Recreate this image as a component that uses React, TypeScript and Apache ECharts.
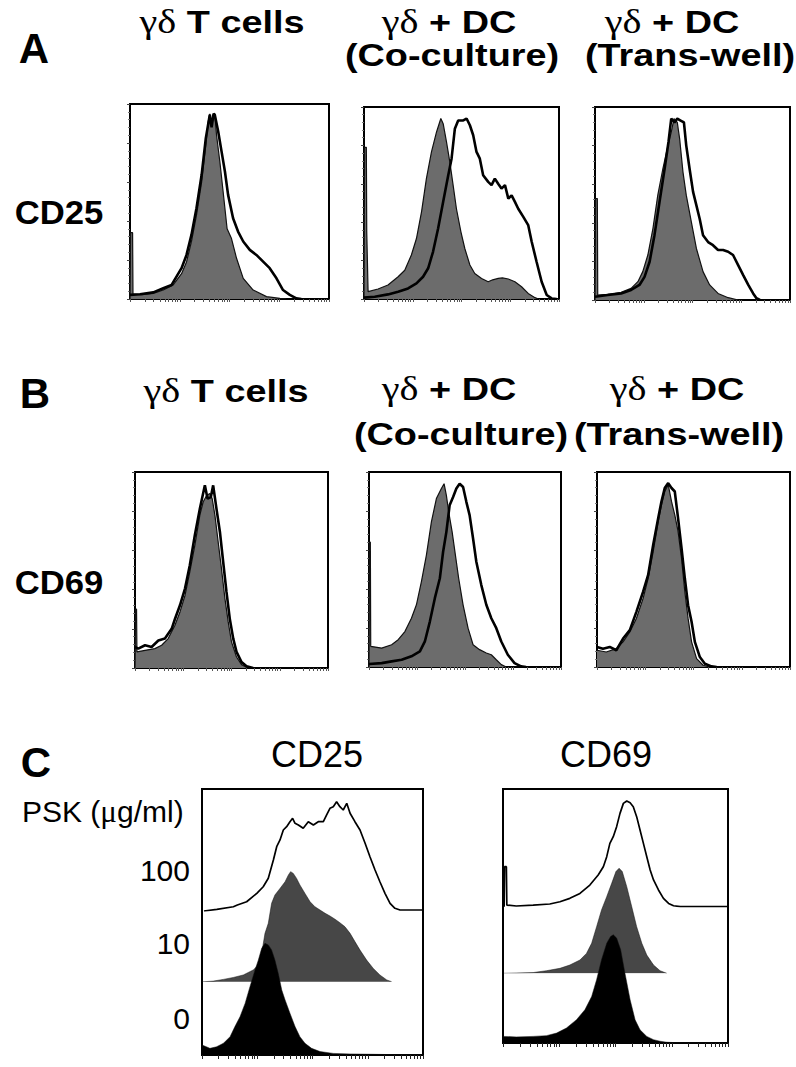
import React, { useEffect, useRef } from "react";
import * as echarts from "echarts";

// ---------- DATA (x: % of log-fluorescence axis, y: % of max count) ----------
// Panel A (CD25): grey = gamma-delta T cells control, open = stained
const a1Grey = [[0,0],[0.3,34],[1.3,34],[1.5,2.5],[6,2.2],[11.7,2.9],[16.7,4.6],[21.7,7.2],[25.9,13],[28.4,19],[30.9,29.5],[33.4,43],[36,60],[38.1,79],[39.3,91],[40.1,95],[41,90],[41.8,94],[42.6,95],[43.5,84],[45.2,70],[46.8,55],[48.8,36],[51,31],[53.5,21],[56.9,10.6],[61.9,4.6],[68.6,1.2],[75.3,0.3],[78.6,0]];
const a1Open = [[0,2.1],[5,2.4],[11.7,3.4],[16.7,5.5],[20.9,7.2],[25.9,15.8],[28.4,22.6],[30.9,33],[33.4,46.6],[36,63.7],[38.1,82.5],[40.1,94.5],[41,88],[42,95],[42.6,94.5],[44.3,86],[46,75.7],[47.7,65.4],[49.3,53.4],[51.8,41.4],[54.3,34.6],[56.9,29.5],[60.2,25.2],[63.5,22.6],[66.9,19.2],[70.2,15.8],[73.6,10.6],[76.9,4.6],[80.3,2.1],[83.6,0.3],[86.1,0]];
const a2Grey = [[0,0],[0.3,79],[1.2,79],[1.4,35],[2.1,3.8],[7.2,5.2],[12.3,7.3],[17.5,11.6],[20.9,15],[24.3,22.9],[26.9,31.5],[29.5,45.4],[32,62.7],[34.6,76.6],[37.2,87],[39.4,94],[40.6,91.3],[42.3,81.8],[44,71.4],[45.7,59.3],[47.4,47],[49.7,35],[51.7,26.3],[54.3,17.7],[56.8,13.3],[60.3,10.7],[63.7,9],[66,10],[68.8,10.7],[71,11],[74,10.4],[77.4,9],[80.8,6.4],[84.2,2.9],[87.7,0.7],[89.4,0]];
const a2Open = [[0,0.7],[5.5,1.2],[12.3,2.4],[17.5,3.8],[22.6,5.5],[26.9,8.1],[30.3,11.6],[32.9,16],[35.4,24.6],[38,36.7],[40.6,50.6],[43.2,64.5],[44.9,73.1],[46.6,88.7],[48.3,93],[50.9,93],[52.6,94],[54.3,90.5],[56,85.3],[57.7,76.6],[59.4,73.1],[61.1,64.5],[63.7,61],[65.4,59.3],[67.1,62.7],[68.8,60],[70.5,57.5],[72.3,59.3],[74,52.3],[75.7,54],[77.4,50.6],[79.1,47],[81.7,42.8],[84.2,38.5],[86,29.8],[88.5,19.4],[91.1,9],[93.7,2.1],[96.2,0.3],[98.8,0]];
const a3Grey = [[0,0],[0.3,52.6],[1.2,52.6],[1.4,2.6],[6.5,2.9],[13.4,4],[18.5,6],[22,9.5],[24.5,14.7],[27.1,23.3],[29.7,37],[32.2,54.3],[34.8,68],[37.4,80],[39.1,87],[40.5,94],[42.2,92],[43.4,83.6],[45.1,66.4],[46.8,54.3],[49.4,40.5],[52,26.7],[55.4,14.7],[58.8,7.8],[63.1,3.4],[68.3,1.2],[73.4,0]];
const a3Open = [[0,1.7],[6.5,2.6],[13.4,3.4],[18.5,5.2],[22.8,7.8],[25.4,12],[28,19.8],[30.5,33.6],[33.1,50.9],[35.7,68],[37.7,82],[39.1,94],[40.8,92],[42.2,94],[43.9,93],[45.6,92],[46.8,80],[48.5,68],[50.3,56],[52,49],[53.7,42],[55.4,33.6],[58,30],[60.5,28.4],[63.1,25.9],[65.7,25.9],[68.3,25],[70.8,23.3],[73.4,18.1],[76,12.9],[78.6,7.8],[81.1,3.4],[82.8,0.9],[84.6,0]];

// Panel B (CD69)
const b1Grey = [[0,0],[0.3,30],[0.8,30],[1,8.2],[5.2,9],[10.3,9.9],[13.8,11.6],[17.2,15],[20.7,21.8],[23.3,28.6],[25.9,37],[28.4,49],[31,62.6],[33.6,78],[35.3,84.7],[37.1,88],[38.8,89],[40,86.4],[41.4,78],[43.1,64.3],[44.8,50.7],[46.6,35.4],[48.3,23.5],[50,13.3],[52.6,5.6],[55.2,1.7],[58.6,0]];
const b1Open = [[0,10.7],[1.7,9.9],[5.2,11.6],[8.6,10.7],[12.1,14],[15.5,15],[19,20],[20.7,25],[23.3,32],[25.9,40.5],[28.4,52.4],[31,67.7],[33.6,81.3],[36.2,93.2],[37.6,86.4],[39.3,87.2],[40.5,93.2],[42.2,81.3],[44,69.4],[45.7,54],[47.4,38.8],[49.1,25.2],[50.9,15],[52.6,8.2],[55.2,3],[57.8,0.9],[61.2,0]];
const b2Grey = [[0,0],[0.2,64],[0.7,64],[0.9,10.6],[6.6,9.7],[11.8,11.4],[15.2,14],[18.7,18.2],[22.1,25],[24.7,31.9],[27.3,43.8],[29.9,57.4],[32.5,74.4],[35.1,86.4],[37.7,91.5],[39.1,94],[40.3,88],[41.5,79.6],[43.3,69.3],[45,57.4],[46.7,45.5],[49,31.9],[51.6,19.9],[54.2,11.4],[57.6,8.9],[61.1,7.2],[63.7,6.3],[66.3,3.7],[68.9,1.2],[71.5,0]];
const b2Open = [[0,1.5],[6.6,2],[11.8,2.9],[17,3.7],[22.1,5.5],[26.5,8],[29.1,13.1],[31.7,23.3],[34.3,35.3],[36.9,45.5],[38.6,59.1],[40.3,69.3],[42,83],[43.8,87.2],[45.5,91.5],[47.2,94],[49,92.3],[50.7,84.7],[52.4,77.9],[54.2,65.9],[55.9,54],[58.5,42],[61.1,31.9],[63.7,25],[66.3,19.9],[68.9,13.1],[72.3,6.3],[75.8,2],[79.2,0.3],[81.8,0]];
const b3Grey = [[0,8.6],[4.8,7.7],[10,9.4],[13.5,12.9],[17,18],[20.4,24.9],[23.9,35.2],[26.5,45.5],[29.1,59.2],[31.7,74.6],[33.4,83.2],[35.1,90],[36.9,93.5],[38.6,84.9],[40.3,78],[42,69.5],[43.8,55.7],[45.5,38.6],[47.2,24.9],[49,12.9],[51.6,4.3],[55,0.9],[58.5,0]];
const b3Open = [[0,10.3],[3.1,9.4],[6.6,10.3],[10,8.6],[13.5,14.6],[17,18.9],[20.4,28.3],[23.9,38.6],[26.5,47.2],[29.1,62.6],[31.7,76.3],[33.4,84.9],[35.1,91.8],[36.9,94.3],[38.6,91.8],[40.3,90],[42,76.3],[43.8,60.9],[45.5,45.5],[47.2,31.7],[49,23.2],[50.7,12.9],[53.3,5.1],[55.9,1.7],[59.3,0.3],[62,0]];

// Panel C: PSK doses 100 / 10 / 0 µg/ml
const pskDoses = ["100", "10", "0"];
const c1Psk100 = [[0.9,0],[6.7,1.4],[14.2,3.5],[16,4.9],[20.2,7.6],[24.8,14.5],[27.7,19.9],[30,26.8],[32.3,41.8],[33.8,52.7],[35.3,58.2],[36.8,66.4],[38.3,69.1],[39.8,73.2],[41,76],[42.1,71.9],[43.6,70.5],[45.8,67.8],[48.1,73.2],[50.4,70.5],[52.6,73.2],[54.9,73.2],[56.4,78.7],[57.9,84.2],[59.4,85.5],[60.9,89.6],[62.4,85.5],[63.9,82.8],[65.5,88.3],[67,80.1],[69.2,73.2],[71.5,66.4],[73.8,55.5],[76,44.5],[78.3,33.6],[80.5,24],[82.8,14.5],[85.1,6.3],[87.3,2.2],[89.6,0.8],[100,0.8]];
const c1Psk10 = [[0,0],[0.9,0],[5.1,0.3],[9.7,1.2],[14.2,2.2],[18.7,3.5],[23.2,6.1],[25.5,8.7],[27,14.7],[28.5,25.1],[30,30.3],[31.5,40.7],[33,45],[35.3,48.4],[37.6,51.9],[39.1,55.4],[40.1,57.1],[41.3,56.2],[42.8,53.6],[44.3,50.2],[46.6,45.8],[48.9,41.5],[51.1,38.9],[53.4,37.2],[55.7,35.5],[57.9,34.1],[60.2,32.4],[62.4,30.6],[64.7,28.5],[67,25.1],[69.2,20.8],[71.5,16.4],[74.5,11.2],[77.5,6.9],[80.5,3.5],[83.6,0.9],[85.8,0]];
const c1Psk0 = [[0,3.8],[3.6,2.5],[6.6,3.1],[9.7,4.4],[12.7,6.9],[14.9,10.7],[17.2,14.4],[19.5,19.4],[21.7,25.7],[24,32],[25.5,35.7],[27,40.1],[28.5,42],[30,41.4],[31.5,39.5],[33,35.7],[34.5,30.7],[36.1,24.4],[37.6,20.7],[39.8,15.7],[42.1,10.7],[44.3,6.9],[46.6,4.4],[49.6,2.5],[53.4,1.3],[59.4,0.6],[67,0.4],[74.5,0.3],[89.6,0.1],[100,0.1]];
const c2Psk100 = [[0.5,0],[0.7,34],[1.5,34],[1.7,1.4],[5.9,0.6],[13.4,1.4],[20.8,2.3],[25.3,4.2],[29.7,7.1],[34.2,11.3],[38.6,18.4],[42.3,26.9],[44.6,34],[46.1,42.5],[47.5,53.8],[49,59.5],[50.5,68],[52,79.3],[53.5,87.8],[55,89.8],[56.5,88.4],[57.9,85],[59.4,76.5],[60.9,65.2],[62.4,53.8],[63.9,42.5],[65.4,31.2],[66.9,22.7],[69.1,14.2],[71.3,7.1],[73.6,2.8],[75.8,0.8],[78.8,0],[100,0]];
const c2Psk10 = [[0,0],[0.7,0],[13.4,0.4],[19.3,1.4],[25.3,2.7],[29.7,4.5],[34.2,7.2],[37.1,10.8],[39.4,16.3],[41.6,25.3],[43.8,34.4],[46.1,41.6],[48.3,48.8],[50.2,55.2],[51.6,57],[53,55.2],[55,47],[57.2,36.2],[59.4,25.3],[61.7,16.3],[63.9,9.9],[66.9,4.5],[69.8,1.4],[72.8,0]];
const c2Psk0 = [[0,2.6],[5.9,2.4],[13.4,2.6],[19.3,2.9],[23.8,3.9],[28.2,5.9],[32.7,9.2],[36.4,13.1],[39.4,18.3],[41.6,24.9],[43.8,32.8],[46.1,39.3],[47.8,41.9],[49,42.6],[50.5,41.3],[52.3,36.7],[54.2,27.5],[56.5,17],[58.7,9.2],[60.9,5.2],[63.9,2.6],[66.9,1.3],[69.8,0.7],[72.8,0.3],[80.2,0],[100,0]];

// Labels
const columnTitles = [["γδ", " T cells", ""], ["γδ", " + DC", "(Co-culture)"], ["γδ", " + DC", "(Trans-well)"]];
const rowMarkers = ["CD25", "CD69"];
const panelLetters = ["A", "B", "C"];
const cTitles = ["CD25", "CD69"];

// log-decade tick positions (4 decades across the axis)
const LOG_TICKS: number[] = [];
for (let d = 0; d < 4; d++) for (let k = 1; k <= 9; k++) LOG_TICKS.push(+(25 * (d + Math.log10(k))).toFixed(2));
LOG_TICKS.push(100);

const GREY = "#6c6c6c";

export default function App() {
  const ref = useRef<HTMLDivElement>(null);
  useEffect(() => {
    if (!ref.current) return;
    const chart = echarts.init(ref.current, null, { renderer: "svg" });
    const grids: any[] = [];
    const xAxes: any[] = [];
    const yAxes: any[] = [];
    const series: any[] = [];

    const addFrame = (l: number, t: number, r: number, b: number, yTicks: boolean, tickLen: number, tickColor: string) => {
      const i = grids.length;
      grids.push({ left: l, top: t, width: r - l, height: b - t, show: true, borderColor: "#000", borderWidth: 2, backgroundColor: "transparent" });
      xAxes.push({ type: "value", gridIndex: i, min: 0, max: 100, axisLine: { show: false }, splitLine: { show: false }, axisLabel: { show: false },
        axisTick: { show: true, inside: false, length: tickLen, customValues: LOG_TICKS, lineStyle: { color: tickColor, width: 1 } } });
      yAxes.push({ type: "value", gridIndex: i, min: 0, max: 100, interval: 20, axisLine: { show: false }, splitLine: { show: false }, axisLabel: { show: false },
        axisTick: { show: yTicks, inside: false, length: 3, lineStyle: { color: "#444", width: 1 } },
        minorTick: { show: yTicks, splitNumber: 5, length: 2, lineStyle: { color: "#777", width: 1 } } });
      return i;
    };
    const addPlain = (l: number, t: number, r: number, b: number) => {
      const i = grids.length;
      grids.push({ left: l, top: t, width: r - l, height: b - t, show: false });
      xAxes.push({ type: "value", gridIndex: i, min: 0, max: 100, show: false });
      yAxes.push({ type: "value", gridIndex: i, min: 0, max: 100, show: false });
      return i;
    };
    const filled = (gi: number, data: number[][], color: string, z: number, lw = 1.2) =>
      series.push({ type: "line", xAxisIndex: gi, yAxisIndex: gi, data, symbol: "none", silent: true, z,
        lineStyle: { color: "#111", width: lw }, areaStyle: { color, opacity: 1 } });
    const open = (gi: number, data: number[][], z: number, lw = 2.6) =>
      series.push({ type: "line", xAxisIndex: gi, yAxisIndex: gi, data, symbol: "none", silent: true, z,
        lineStyle: { color: "#000", width: lw } });

    const aBoxes = [[130, 104, 329, 299], [364, 107, 559, 299], [595, 107, 790, 300]];
    const bBoxes = [[135, 472, 328, 668], [369, 472, 561, 667], [597, 472, 790, 667]];
    const aData = [[a1Grey, a1Open], [a2Grey, a2Open], [a3Grey, a3Open]];
    const bData = [[b1Grey, b1Open], [b2Grey, b2Open], [b3Grey, b3Open]];
    aBoxes.forEach((bx, k) => { const g = addFrame(bx[0], bx[1], bx[2], bx[3], true, 3, "#555"); filled(g, aData[k][0], GREY, 2); open(g, aData[k][1], 3); });
    bBoxes.forEach((bx, k) => { const g = addFrame(bx[0], bx[1], bx[2], bx[3], true, 3, "#555"); filled(g, bData[k][0], GREY, 2); open(g, bData[k][1], 3); });

    // Panel C: box, then one grid per offset trace (bottom = its baseline)
    const cBoxes = [[202, 789, 423, 1055], [503, 789, 728, 1043]];
    const cBase = [[911, 981.7], [906.7, 973.3]];
    const cData = [[c1Psk100, c1Psk10, c1Psk0], [c2Psk100, c2Psk10, c2Psk0]];
    cBoxes.forEach((bx, k) => {
      addFrame(bx[0], bx[1], bx[2], bx[3], false, 4, "#222");
      const gTop = addPlain(bx[0], bx[1], bx[2], cBase[k][0]);
      const gMid = addPlain(bx[0], bx[1], bx[2], cBase[k][1]);
      const gBot = addPlain(bx[0], bx[1], bx[2], bx[3]);
      open(gTop, cData[k][0], 2, 1.7);
      filled(gMid, cData[k][1], "#474747", 3, 0.5);
      filled(gBot, cData[k][2], "#000", 4, 0.5);
    });

    const SANS = "'Liberation Sans', Arial, Helvetica, sans-serif";
    const SERIF = "'Liberation Serif', 'Times New Roman', serif";
    const txt = (x: number, y: number, text: string, size: number, bold: boolean, align = "center", rich?: any, scaleX = 1) => ({
      type: "text", x, y, scaleX, z: 10, silent: true,
      style: { text, fill: "#000", fontFamily: SANS, fontSize: size, fontWeight: bold ? "bold" : "normal", align, verticalAlign: "middle", rich },
    });
    const greekRich = { g: { fontFamily: SERIF, fontWeight: "normal", fontSize: 33, fill: "#000" } };
    const SX = 1.22;
    const graphics: any[] = [];
    graphics.push(txt(34, 48, panelLetters[0], 42, true));
    graphics.push(txt(35, 393, panelLetters[1], 42, true));
    graphics.push(txt(36, 762, panelLetters[2], 42, true));
    const line1A = [[222, 22], [449, 22], [672, 22]];
    const line2A = [[0, 0], [452, 55], [690, 55]];
    const line1B = [[226, 391], [449, 389], [677, 389]];
    const line2B = [[0, 0], [461, 434], [679, 434]];
    columnTitles.forEach((t, k) => {
      graphics.push(txt(line1A[k][0], line1A[k][1], `{g|${t[0]}}${t[1]}`, 31, true, "center", greekRich, SX));
      graphics.push(txt(line1B[k][0], line1B[k][1], `{g|${t[0]}}${t[1]}`, 31, true, "center", greekRich, SX));
      if (t[2]) {
        graphics.push(txt(line2A[k][0], line2A[k][1], t[2], 31, true, "center", undefined, SX));
        graphics.push(txt(line2B[k][0], line2B[k][1], t[2], 31, true, "center", undefined, SX));
      }
    });
    graphics.push(txt(59, 212, rowMarkers[0], 33, true, "center", undefined, 1.05));
    graphics.push(txt(59, 582, rowMarkers[1], 33, true, "center", undefined, 1.05));
    graphics.push(txt(317, 754, cTitles[0], 36, false));
    graphics.push(txt(606, 754, cTitles[1], 36, false));
    graphics.push(txt(22, 811, "PSK ({m|μ}g/ml)", 30, false, "left", { m: { fontFamily: SERIF, fontSize: 31, fill: "#000" } }));
    const doseY = [870, 943, 1018];
    pskDoses.forEach((d, k) => graphics.push(txt(190, doseY[k], d, 30, false, "right")));

    chart.setOption({
      animation: false,
      backgroundColor: "#fff",
      grid: grids,
      xAxis: xAxes,
      yAxis: yAxes,
      series,
      graphic: graphics,
    });
    return () => chart.dispose();
  }, []);
  return <div ref={ref} style={{ position: "absolute", left: 0, top: 0, width: 796, height: 1067 }} />;
}
